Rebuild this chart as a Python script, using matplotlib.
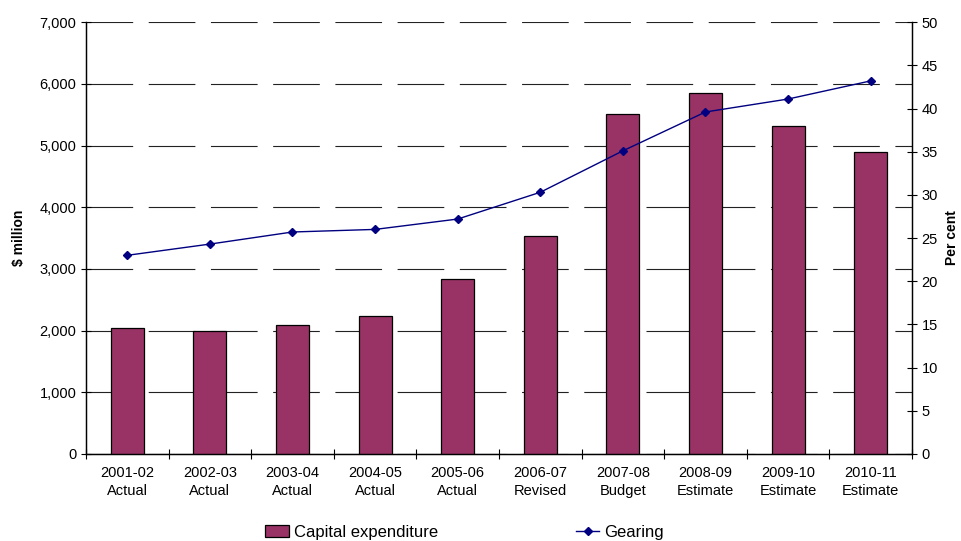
import matplotlib
matplotlib.use("Agg")
import matplotlib.pyplot as plt
from matplotlib.ticker import FuncFormatter, FixedLocator

plt.rcParams["font.family"] = ["Liberation Sans", "DejaVu Sans"]

years = ["2001-02", "2002-03", "2003-04", "2004-05", "2005-06",
         "2006-07", "2007-08", "2008-09", "2009-10", "2010-11"]
status = ["Actual", "Actual", "Actual", "Actual", "Actual",
          "Revised", "Budget", "Estimate", "Estimate", "Estimate"]
capex = [2040, 1990, 2090, 2235, 2840, 3535, 5515, 5850, 5315, 4890]
gearing = [23.0, 24.3, 25.7, 26.0, 27.2, 30.3, 35.1, 39.6, 41.1, 43.2]

BAR = "#993366"
LINE = "#000080"

fig = plt.figure(figsize=(9.62, 5.41), dpi=100)
ax = fig.add_axes([0.0894, 0.161, 0.8586, 0.798])
ax2 = ax.twinx()

x = list(range(len(years)))
bars = ax.bar(x, capex, width=0.4, color=BAR, edgecolor="black",
              linewidth=0.9, label="Capital expenditure", zorder=3)
line, = ax2.plot(x, gearing, color=LINE, lw=1.0, marker="D", markersize=4,
                 label="Gearing", zorder=4)

ax.set_xlim(-0.5, len(years) - 0.5)
ax.set_ylim(0, 7000)
ax.set_yticks(range(0, 7001, 1000))
ax.yaxis.set_major_formatter(FuncFormatter(lambda v, p: f"{int(v):,}"))
ax2.set_ylim(0, 50)
ax2.set_yticks(range(0, 51, 5))

ax.set_xticks(x)
ax.set_xticklabels([f"{y}\n{s}" for y, s in zip(years, status)],
                   fontsize=10.5, linespacing=1.35)
ax.xaxis.set_minor_locator(FixedLocator([i + 0.5 for i in range(-1, len(years))]))
ax.tick_params(axis="x", which="major", length=0, pad=9)
ax.tick_params(axis="x", which="minor", direction="inout", length=7, width=0.8)
ax.tick_params(axis="y", direction="inout", length=7, width=0.8, labelsize=10.5)
ax2.tick_params(axis="y", direction="inout", length=7, width=0.8, labelsize=10.5)

ax.yaxis.grid(True, color="#222222", linewidth=0.8, linestyle=(0, (42, 14)), zorder=0)
ax.set_axisbelow(True)

for a in (ax, ax2):
    a.spines["top"].set_visible(False)
    for s in ("left", "right", "bottom"):
        a.spines[s].set_linewidth(0.9)

ax.set_ylabel("$ million", fontsize=10, fontweight="bold", labelpad=10)
ax2.set_ylabel("Per cent", fontsize=10, fontweight="bold", labelpad=5)

fig.legend(handles=[bars, line], loc="center", bbox_to_anchor=(0.483, 0.016),
           ncol=2, frameon=False, fontsize=12, columnspacing=8.3,
           handlelength=1.4, handletextpad=0.3, borderaxespad=0)

fig.savefig("out.png", dpi=100, facecolor="white")
